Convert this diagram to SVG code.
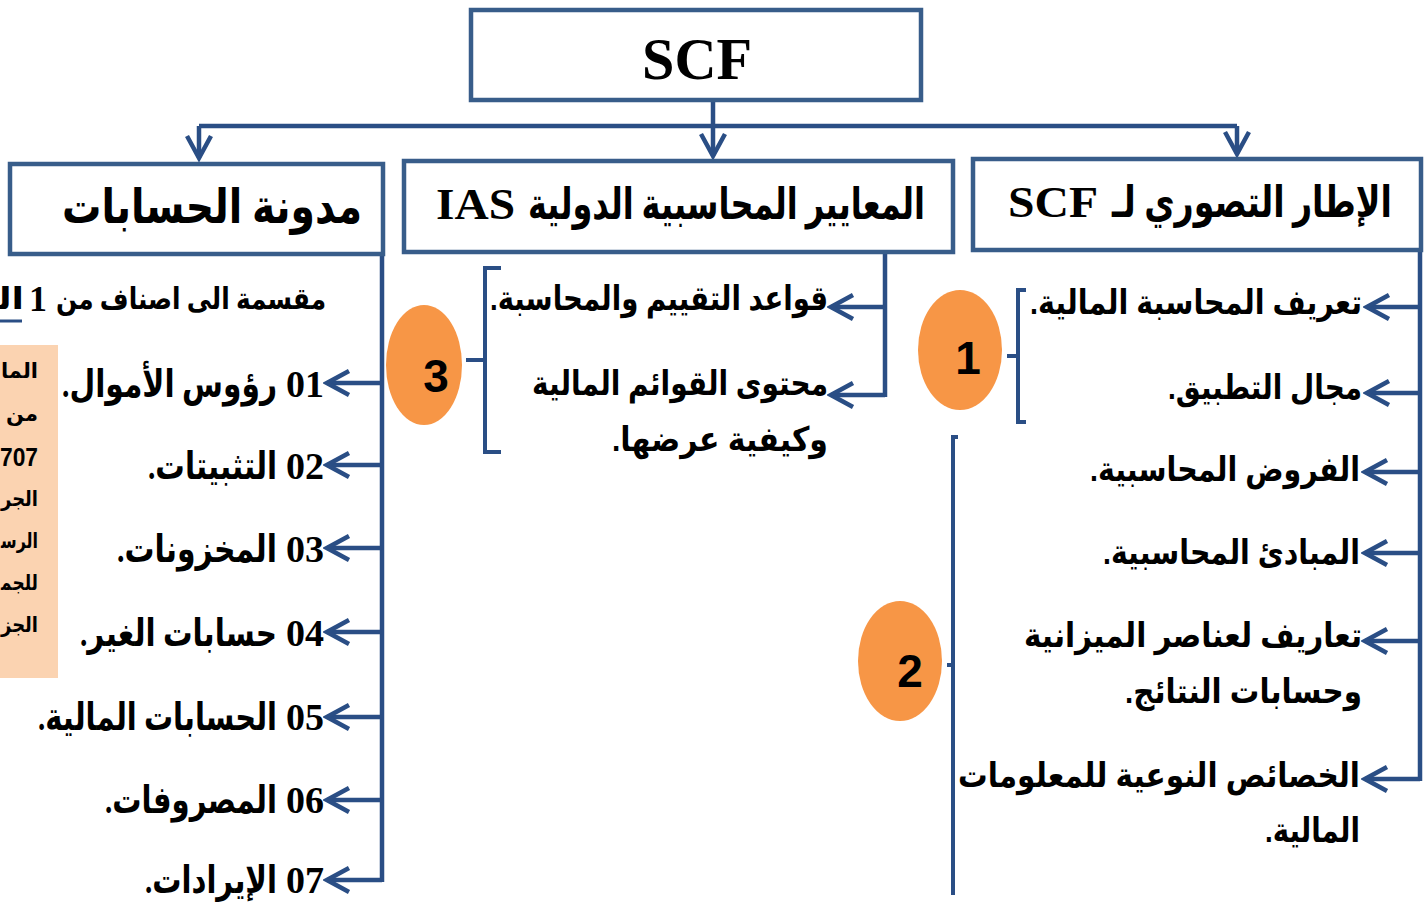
<svg xmlns="http://www.w3.org/2000/svg" width="1424" height="902" viewBox="0 0 1424 902">
<style>
.box{fill:#fff;stroke:#385D8A;stroke-width:4.5}
.ln{fill:none;stroke:#2A4E85;stroke-width:4.5}
.br{fill:none;stroke:#2A4E85;stroke-width:4}
.ar{fill:none;stroke:#2A4E85;stroke-width:4.5;marker-end:url(#ah)}
.ov{fill:#F79646}
.t{font-family:"Liberation Sans","DejaVu Sans",sans-serif;font-weight:bold;fill:#000;direction:rtl;text-anchor:start}
.ts{font-family:"Liberation Serif","DejaVu Serif","DejaVu Sans",serif;font-weight:bold;fill:#000;direction:rtl;text-anchor:start}
.lat{font-family:"Liberation Serif",serif;font-weight:bold;fill:#000}
.num{font-family:"Liberation Sans","DejaVu Sans",sans-serif;font-weight:bold;font-size:46px;text-anchor:middle;fill:#000}
.cn{font-family:"Liberation Serif",serif;font-weight:bold;fill:#000;font-size:38px;text-anchor:end}
</style>
<defs>
<marker id="ah" markerUnits="userSpaceOnUse" viewBox="-24 -14 28 28" markerWidth="28" markerHeight="28" refX="0" refY="0" orient="auto">
<path d="M-22,-12 L0,0 L-22,12" fill="none" stroke="#2A4E85" stroke-width="4.5"/>
</marker>
</defs>

<g id="connectors">
<path class="ln" d="M713,100 V126"/>
<path class="ln" d="M199,126 H1237"/>
<path class="ar" d="M199,126 V158"/>
<path class="ar" d="M713,126 V156"/>
<path class="ar" d="M1237,126 V154"/>
<path class="ln" d="M1420,250 V781"/>
<path class="ar" d="M1420,307 H1367"/>
<path class="ar" d="M1420,393 H1367"/>
<path class="ar" d="M1420,472 H1365"/>
<path class="ar" d="M1420,553 H1365"/>
<path class="ar" d="M1420,641 H1365"/>
<path class="ar" d="M1420,779 H1365"/>
<path class="ln" d="M885,252 V397"/>
<path class="ar" d="M885,307 H831"/>
<path class="ar" d="M885,395 H831"/>
<path class="ln" d="M382,254 V882"/>
<path class="ar" d="M382,383 H327"/>
<path class="ar" d="M382,465 H327"/>
<path class="ar" d="M382,548 H327"/>
<path class="ar" d="M382,632 H327"/>
<path class="ar" d="M382,717 H327"/>
<path class="ar" d="M382,800 H327"/>
<path class="ar" d="M382,880 H327"/>
</g>

<g id="scf">
<rect class="box" x="471" y="10" width="450" height="90"/>
<text x="697" y="79" font-family="Liberation Serif,serif" font-weight="bold" font-size="60" text-anchor="middle" textLength="110" lengthAdjust="spacingAndGlyphs">SCF</text>
</g>

<g id="cadre">
<rect class="box" x="973" y="159" width="448" height="91"/>
<text class="ts" x="1392" y="217" font-size="44" textLength="280" lengthAdjust="spacingAndGlyphs">الإطار التصوري لـ</text>
<text class="lat" x="1008" y="217" font-size="44" textLength="90" lengthAdjust="spacingAndGlyphs">SCF</text>
</g>

<g id="ias">
<rect class="box" x="404" y="161" width="549" height="91"/>
<text class="ts" x="925" y="219" font-size="44" textLength="397" lengthAdjust="spacingAndGlyphs">المعايير المحاسبية الدولية</text>
<text class="lat" x="436" y="219" font-size="44" textLength="79" lengthAdjust="spacingAndGlyphs">IAS</text>
</g>

<g id="codification">
<rect class="box" x="10" y="164" width="373" height="90"/>
<text class="ts" x="362" y="223" font-size="48" textLength="300" lengthAdjust="spacingAndGlyphs">مدونة الحسابات</text>
</g>

<g id="right-items">
<text class="t" x="1362" y="314" font-size="34" textLength="332" lengthAdjust="spacingAndGlyphs">تعريف المحاسبة المالية.</text>
<text class="t" x="1362" y="399" font-size="34" textLength="194" lengthAdjust="spacingAndGlyphs">مجال التطبيق.</text>
<text class="t" x="1360" y="481" font-size="34" textLength="270" lengthAdjust="spacingAndGlyphs">الفروض المحاسبية.</text>
<text class="t" x="1360" y="564" font-size="34" textLength="257" lengthAdjust="spacingAndGlyphs">المبادئ المحاسبية.</text>
<text class="t" x="1362" y="647" font-size="34" textLength="338" lengthAdjust="spacingAndGlyphs">تعاريف لعناصر الميزانية</text>
<text class="t" x="1362" y="703" font-size="34" textLength="237" lengthAdjust="spacingAndGlyphs">وحسابات النتائج.</text>
<text class="t" x="1360" y="787" font-size="34" textLength="402" lengthAdjust="spacingAndGlyphs">الخصائص النوعية للمعلومات</text>
<text class="t" x="1360" y="842" font-size="34" textLength="95" lengthAdjust="spacingAndGlyphs">المالية.</text>
</g>

<g id="group1">
<path class="br" d="M1026,290 H1018 V422 H1026 M1018,356 H1007"/>
<ellipse class="ov" cx="960" cy="350" rx="42" ry="60"/>
<text class="num" x="968" y="374">1</text>
</g>

<g id="group2">
<path class="br" d="M958,437 H953 V895 M953,665 H947"/>
<ellipse class="ov" cx="900" cy="661" rx="42" ry="60"/>
<text class="num" x="910" y="687">2</text>
</g>

<g id="middle-items">
<text class="t" x="828" y="310" font-size="34" textLength="338" lengthAdjust="spacingAndGlyphs">قواعد التقييم والمحاسبة.</text>
<text class="t" x="828" y="395" font-size="34" textLength="296" lengthAdjust="spacingAndGlyphs">محتوى القوائم المالية</text>
<text class="t" x="828" y="451" font-size="34" textLength="216" lengthAdjust="spacingAndGlyphs">وكيفية عرضها.</text>
</g>

<g id="group3">
<path class="br" d="M501,268 H485 V452 H501 M485,360 H466"/>
<ellipse class="ov" cx="424" cy="365" rx="38" ry="60"/>
<text class="num" x="436" y="392">3</text>
</g>

<g id="left-items">
<text class="ts" x="326" y="309" font-size="30" textLength="270" lengthAdjust="spacingAndGlyphs">مقسمة الى اصناف من</text>
<text class="lat" x="38" y="311" font-size="36" text-anchor="middle">1</text>
<text class="ts" x="24" y="309" font-size="30" textLength="26" lengthAdjust="spacingAndGlyphs">ال&#x200D;</text>
<path d="M0,321 H22" stroke="#2A4E85" stroke-width="3"/>
<text class="cn" x="324" y="397">01</text>
<text class="ts" x="277" y="397" font-size="38" textLength="215" lengthAdjust="spacingAndGlyphs">رؤوس الأموال.</text>
<text class="cn" x="324" y="479">02</text>
<text class="ts" x="277" y="479" font-size="38" textLength="129" lengthAdjust="spacingAndGlyphs">التثبيتات.</text>
<text class="cn" x="324" y="562">03</text>
<text class="ts" x="277" y="562" font-size="38" textLength="160" lengthAdjust="spacingAndGlyphs">المخزونات.</text>
<text class="cn" x="324" y="646">04</text>
<text class="ts" x="277" y="646" font-size="38" textLength="197" lengthAdjust="spacingAndGlyphs">حسابات الغير.</text>
<text class="cn" x="324" y="730">05</text>
<text class="ts" x="277" y="730" font-size="38" textLength="239" lengthAdjust="spacingAndGlyphs">الحسابات المالية.</text>
<text class="cn" x="324" y="813">06</text>
<text class="ts" x="277" y="813" font-size="38" textLength="172" lengthAdjust="spacingAndGlyphs">المصروفات.</text>
<text class="cn" x="324" y="893">07</text>
<text class="ts" x="277" y="893" font-size="38" textLength="132" lengthAdjust="spacingAndGlyphs">الإيرادات.</text>
</g>

<g id="note">
<rect x="0" y="345" width="58" height="333" fill="#FBD3B1"/>
<text class="t" x="38" y="378" font-size="21" textLength="37" lengthAdjust="spacingAndGlyphs">الما</text>
<text class="t" x="38" y="421" font-size="21">من</text>
<text class="t" x="38" y="466" font-size="25" textLength="38" lengthAdjust="spacingAndGlyphs">707</text>
<text class="t" x="38" y="506" font-size="21" textLength="37" lengthAdjust="spacingAndGlyphs">الجر</text>
<text class="t" x="38" y="548" font-size="21" textLength="37" lengthAdjust="spacingAndGlyphs">الرس&#x200D;</text>
<text class="t" x="38" y="590" font-size="21" textLength="37" lengthAdjust="spacingAndGlyphs">للجم&#x200D;</text>
<text class="t" x="38" y="632" font-size="21" textLength="37" lengthAdjust="spacingAndGlyphs">الجز</text>
</g>
</svg>
